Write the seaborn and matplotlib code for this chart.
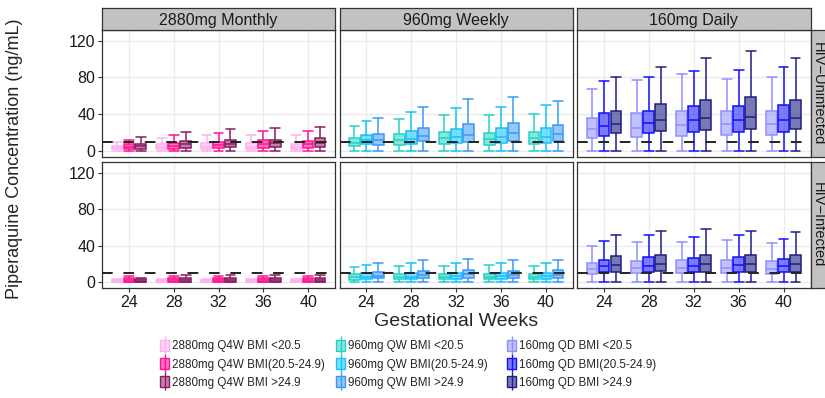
import matplotlib
matplotlib.use("Agg")
import numpy as np
import pandas as pd
import matplotlib.pyplot as plt
import seaborn as sns
from matplotlib.colors import to_rgba
from matplotlib.patches import Patch
from matplotlib.lines import Line2D
from matplotlib.legend_handler import HandlerTuple

# ---------------- data ----------------
weeks = [24, 28, 32, 36, 40]
doses = ["2880mg Monthly", "960mg Weekly", "160mg Daily"]
status = ["HIV\u2212Uninfected", "HIV\u2212Infected"]
groups = [
    "2880mg Q4W BMI <20.5", "2880mg Q4W BMI(20.5-24.9)", "2880mg Q4W BMI >24.9",
    "960mg QW BMI <20.5", "960mg QW BMI(20.5-24.9)", "960mg QW BMI >24.9",
    "160mg QD BMI <20.5", "160mg QD BMI(20.5-24.9)", "160mg QD BMI >24.9",
]
colors = ["#FFB0EE", "#FF1493", "#8B1C62",
          "#22D3C3", "#12C2FA", "#3A98F5",
          "#8F8FFF", "#1010FF", "#1E1E82"]
fill_alpha = [0.55, 0.6, 0.55, 0.55, 0.55, 0.55, 0.55, 0.55, 0.6]
ref_level = 10

# each row: [min, q1, median, q3, max] for weeks 24..40
uninf_2880_low = [[0.3, 2.5, 4.3, 6.2, 10.0], [0.3, 2.2, 4.5, 7.6, 14.5], [0.3, 2.5, 5.0, 9.0, 17.8],
                  [0.3, 2.5, 5.0, 9.0, 17.8], [0.3, 2.2, 4.8, 8.0, 17.4]]
uninf_2880_mid = [[0.3, 2.2, 5.0, 7.6, 12.7], [0.3, 2.5, 5.8, 9.0, 17.8], [0.3, 3.3, 6.5, 10.5, 20.0],
                  [0.3, 4.0, 7.5, 12.0, 22.0], [0.3, 3.6, 7.5, 11.6, 22.5]]
uninf_2880_high = [[0.3, 2.5, 5.8, 8.0, 15.6], [0.3, 4.0, 7.6, 11.2, 21.4], [0.3, 4.3, 8.0, 12.3, 24.0],
                   [0.3, 4.7, 9.0, 12.7, 25.4], [0.3, 4.7, 9.5, 14.0, 26.5]]

uninf_960_low = [[0.3, 5.8, 9.4, 14.9, 27.5], [0.3, 7.2, 12.7, 18.8, 35.0], [0.3, 7.6, 14.0, 20.7, 39.5],
                 [0.3, 7.2, 13.4, 20.3, 38.8], [0.3, 8.3, 14.5, 21.0, 40.0]]
uninf_960_mid = [[0.3, 7.6, 12.0, 17.4, 33.0], [0.3, 8.3, 13.8, 22.5, 43.0], [0.3, 9.0, 15.2, 24.6, 46.4],
                 [0.3, 9.0, 15.6, 25.4, 47.5], [0.3, 9.4, 15.9, 25.7, 49.7]]
uninf_960_high = [[0.3, 7.2, 12.7, 19.2, 36.0], [0.3, 10.9, 16.3, 25.7, 47.8], [0.3, 10.5, 18.0, 29.7, 57.0],
                  [0.3, 11.2, 19.6, 30.4, 58.4], [0.3, 11.2, 19.2, 29.0, 55.0]]

uninf_160_low = [[0.3, 14.9, 23.9, 35.9, 67.4], [0.3, 16.0, 25.7, 41.0, 77.0], [0.3, 17.0, 28.0, 44.2, 83.4],
                 [0.3, 18.0, 29.4, 43.9, 78.0], [0.3, 18.0, 29.4, 44.2, 80.8]]
uninf_160_mid = [[0.3, 17.0, 27.5, 41.0, 75.8], [0.3, 19.6, 30.8, 44.2, 80.8], [0.3, 20.7, 33.7, 48.6, 87.0],
                 [0.3, 21.4, 33.7, 48.6, 88.5], [0.3, 21.4, 33.7, 50.4, 91.7]]
uninf_160_high = [[0.3, 19.9, 30.0, 44.2, 80.0], [0.8, 22.0, 33.4, 50.8, 91.0], [0.3, 23.6, 36.3, 55.5, 100.8],
                  [0.3, 24.7, 37.7, 58.4, 108.4], [0.3, 24.7, 36.6, 55.5, 100.8]]

inf_2880_low = [[0.2, 0.4, 1.2, 2.5, 3.5], [0.2, 0.4, 1.2, 2.6, 4.0], [0.2, 0.4, 1.2, 2.6, 4.0],
                [0.2, 0.4, 1.2, 2.6, 4.0], [0.2, 0.4, 1.2, 2.6, 4.0]]
inf_2880_mid = [[0.2, 0.6, 2.0, 4.2, 6.5], [0.2, 0.7, 2.2, 4.8, 7.2], [0.2, 0.7, 2.2, 4.8, 7.2],
                [0.2, 0.7, 2.2, 4.8, 7.2], [0.2, 0.7, 2.2, 4.8, 7.2]]
inf_2880_high = [[0.2, 0.5, 1.5, 3.5, 5.0], [0.2, 0.8, 2.3, 5.0, 8.0], [0.2, 0.8, 2.4, 5.2, 8.3],
                 [0.2, 0.8, 2.4, 5.2, 8.3], [0.2, 0.8, 2.4, 5.2, 8.3]]

inf_960_low = [[0.2, 2.9, 5.4, 8.7, 16.3], [0.2, 3.6, 5.5, 8.7, 17.7], [0.2, 3.6, 5.6, 9.0, 17.7],
               [0.2, 3.6, 5.6, 9.0, 18.4], [0.2, 3.3, 5.4, 8.7, 17.7]]
inf_960_mid = [[0.2, 3.3, 6.0, 9.8, 18.8], [0.2, 3.6, 6.3, 10.1, 21.0], [0.2, 3.9, 6.5, 10.5, 21.3],
               [0.2, 3.9, 6.5, 10.5, 21.0], [0.2, 3.6, 6.5, 10.5, 21.0]]
inf_960_high = [[0.2, 4.3, 7.2, 10.8, 21.0], [0.2, 4.3, 7.9, 12.3, 23.9], [0.2, 5.0, 8.7, 13.4, 26.0],
                [0.2, 4.7, 8.3, 12.6, 24.6], [0.2, 4.7, 8.3, 13.0, 24.2]]

inf_160_low = [[0.3, 8.7, 14.1, 21.3, 40.0], [0.3, 10.5, 15.9, 23.5, 43.7], [0.3, 10.5, 15.2, 23.9, 44.4],
               [0.3, 10.5, 15.5, 24.6, 46.6], [0.3, 9.4, 14.8, 22.8, 43.4]]
inf_160_mid = [[0.3, 10.8, 17.7, 24.2, 45.0], [0.3, 10.8, 17.3, 27.5, 51.7], [0.3, 11.2, 17.3, 26.7, 50.0],
               [0.3, 11.2, 18.8, 28.2, 52.0], [0.3, 10.8, 17.7, 26.0, 47.7]]
inf_160_high = [[0.3, 11.2, 18.8, 28.6, 51.7], [0.3, 12.3, 19.5, 29.6, 56.0], [0.3, 11.6, 19.9, 30.4, 57.8],
                [0.3, 11.6, 20.2, 30.4, 56.0], [0.3, 11.6, 19.5, 30.0, 55.0]]

series = {
    (status[0], 0): uninf_2880_low, (status[0], 1): uninf_2880_mid, (status[0], 2): uninf_2880_high,
    (status[0], 3): uninf_960_low, (status[0], 4): uninf_960_mid, (status[0], 5): uninf_960_high,
    (status[0], 6): uninf_160_low, (status[0], 7): uninf_160_mid, (status[0], 8): uninf_160_high,
    (status[1], 0): inf_2880_low, (status[1], 1): inf_2880_mid, (status[1], 2): inf_2880_high,
    (status[1], 3): inf_960_low, (status[1], 4): inf_960_mid, (status[1], 5): inf_960_high,
    (status[1], 6): inf_160_low, (status[1], 7): inf_160_mid, (status[1], 8): inf_160_high,
}

rows = []
for (st, gi), vals in series.items():
    for wk, five in zip(weeks, vals):
        for v in five:
            rows.append(dict(status=st, dose=doses[gi // 3], group=groups[gi], week=wk, conc=v))
df = pd.DataFrame(rows)

# ---------------- style ----------------
sns.set_theme(style="white")
plt.rcParams["font.family"] = ["Liberation Sans", "DejaVu Sans"]

W, H = 825, 398
fig = plt.figure(figsize=(W / 100, H / 100), dpi=100)

def rect(x0, y0, x1, y1):
    return [x0 / W, 1 - y1 / H, (x1 - x0) / W, (y1 - y0) / H]

col_x = [(102, 335), (339.5, 573), (577, 810.5)]
row_y = [(30, 157), (162, 288)]
edge = "#333333"
pal = dict(zip(groups, colors))

for r, st in enumerate(status):
    for c, dose in enumerate(doses):
        ax = fig.add_axes(rect(col_x[c][0], row_y[r][0], col_x[c][1], row_y[r][1]))
        sub = df[(df.status == st) & (df.dose == dose)]
        levels = groups[3 * c:3 * c + 3]
        for k, lev in enumerate(levels):
            gi = 3 * c + k
            col = colors[gi]
            part = sub[sub.group == lev]
            sns.boxplot(data=part, x="week", y="conc", hue="group", order=weeks,
                        hue_order=levels, palette=pal, dodge=True, width=0.8, gap=0.1,
                        whis=(0, 100), showfliers=False, saturation=1,
                        linecolor=col, linewidth=1.1,
                        boxprops=dict(facecolor=to_rgba(col, fill_alpha[gi])),
                        capwidths=0.22, legend=False, ax=ax)
        ax.axhline(ref_level, color="#222222", lw=1.4, dashes=(5.5, 5.5), zorder=6)
        ax.set_xlim(-0.6, 4.6)
        ax.set_ylim(-6.2, 131.5)
        ax.set_yticks([0, 40, 80, 120])
        ax.set_xticks(range(5))
        ax.set_xticklabels([str(w) for w in weeks])
        ax.grid(True, color="#EBEBEB", lw=1.0)
        ax.set_axisbelow(True)
        ax.set_facecolor("white")
        for sp in ax.spines.values():
            sp.set_color(edge)
            sp.set_linewidth(0.9)
            sp.set_visible(True)
        ax.set_xlabel("")
        ax.set_ylabel("")
        ax.tick_params(axis="both", which="major", length=3, width=0.8, color=edge,
                       labelsize=11.5, labelcolor="#1A1A1A", pad=2,
                       bottom=(r == 1), left=(c == 0),
                       labelbottom=(r == 1), labelleft=(c == 0))

# top strips
for c, dose in enumerate(doses):
    sa = fig.add_axes(rect(col_x[c][0], 8, col_x[c][1], 30))
    sa.set_facecolor("#C2C2C2")
    sa.set_xticks([]); sa.set_yticks([])
    for sp in sa.spines.values():
        sp.set_color(edge); sp.set_linewidth(0.9)
    sa.text(0.5, 0.45, dose, ha="center", va="center", fontsize=11.5, color="#1A1A1A",
            transform=sa.transAxes)

# right strips
for r, st in enumerate(status):
    sa = fig.add_axes(rect(811, row_y[r][0], 834, row_y[r][1]))
    sa.set_facecolor("#C2C2C2")
    sa.set_xticks([]); sa.set_yticks([])
    for sp in sa.spines.values():
        sp.set_color(edge); sp.set_linewidth(0.9)
    fig.text(818.0 / W, 1 - (row_y[r][0] + row_y[r][1]) / 2 / H, st, ha="center", va="center",
             rotation=270, fontsize=10.5, color="#1A1A1A")

fig.text(456 / W, 1 - 322 / H, "Gestational Weeks", ha="center", va="center", fontsize=14)
fig.text(15 / W, 1 - 159 / H, "Piperaquine Concentration (ng/mL)", ha="center", va="center",
         rotation=90, fontsize=13)

# legend (three columns)
leg_x = [160, 336, 507]
for c in range(3):
    handles, labels = [], []
    for k in range(3):
        gi = 3 * c + k
        col = colors[gi]
        p = Patch(facecolor=to_rgba(col, fill_alpha[gi]), edgecolor=col, lw=1.0)
        ln = Line2D([], [], color=col, marker="|", linestyle="None", markersize=13, mew=1.0)
        handles.append((p, ln))
        labels.append(groups[gi])
    fig.legend(handles, labels, loc="upper left", bbox_to_anchor=(leg_x[c] / W, 1 - 340 / H),
               frameon=False, fontsize=8.4, handlelength=0.8, handleheight=1.05,
               handletextpad=0.2, labelspacing=0.5, borderpad=0, borderaxespad=0,
               handler_map={tuple: HandlerTuple(ndivide=1, pad=0)})

fig.savefig("out.png", dpi=100)
